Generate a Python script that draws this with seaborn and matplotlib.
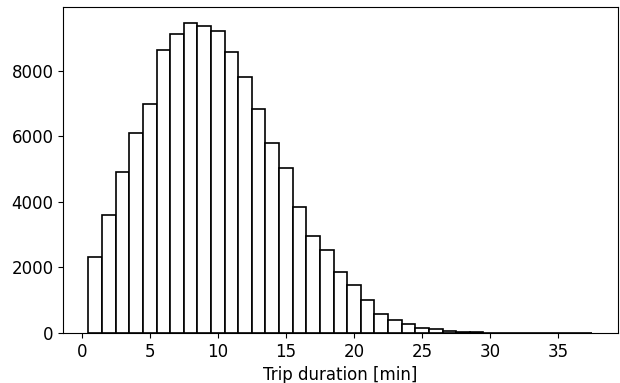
import seaborn as sns
import matplotlib.pyplot as plt
import pandas as pd

# Trip duration bins (centres, minutes) and counts
minutes = list(range(1, 38))
counts = [2330, 3610, 4900, 6090, 6990, 8650, 9130, 9470, 9380, 9230,
          8570, 7800, 6840, 5800, 5030, 3840, 2950, 2520, 1850, 1470,
          1010, 590, 400, 255, 155, 110, 60, 20, 40, 8,
          6, 5, 4, 3, 3, 2, 2]


def main():
    df = pd.DataFrame({"duration": minutes, "count": counts})

    fig = plt.figure(figsize=(6.2, 3.83), dpi=100)
    ax = fig.add_axes([0.102, 0.131, 0.894, 0.850])

    sns.histplot(
        data=df,
        x="duration",
        weights="count",
        discrete=True,
        color="white",
        edgecolor="black",
        linewidth=1.2,
        alpha=1,
        ax=ax,
    )

    ax.set_xticks([0, 5, 10, 15, 20, 25, 30, 35])
    ax.set_yticks([0, 2000, 4000, 6000, 8000])
    ax.tick_params(labelsize=12)
    ax.set_xlabel("Trip duration [min]", fontsize=12)
    ax.set_ylabel("")

    fig.savefig("out.png", dpi=100)


if __name__ == "__main__":
    main()
